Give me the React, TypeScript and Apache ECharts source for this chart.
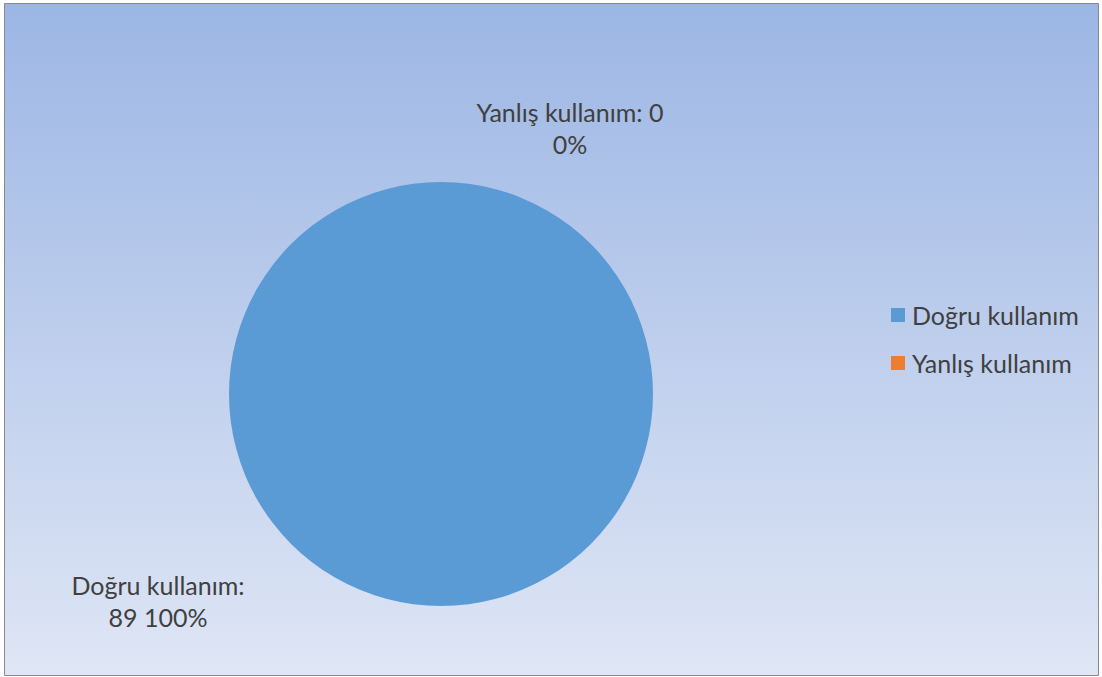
import React, { useEffect, useRef } from "react";
import * as echarts from "echarts";

const categories = ["Doğru kullanım", "Yanlış kullanım"];
const values = [89, 0];
const colors = ["#5b9bd5", "#ed7d31"];

export default function App() {
  const ref = useRef<HTMLDivElement>(null);
  useEffect(() => {
    const chart = echarts.init(ref.current!, null, { renderer: "svg" });
    const labelPos = [
      { x: 158, y: 601 },
      { x: 570, y: 128 },
    ];
    chart.setOption({
      animation: false,
      graphic: [
        {
          type: "rect",
          z: -10,
          silent: true,
          shape: { x: 4.5, y: 3.5, width: 1094, height: 672 },
          style: {
            fill: new echarts.graphic.LinearGradient(0, 0, 0, 1, [
              { offset: 0, color: "#9cb6e4" },
              { offset: 1, color: "#dfe6f5" },
            ]),
            stroke: "#8a8a8a",
            lineWidth: 1,
          },
        },
      ],
      legend: {
        orient: "vertical",
        left: 886,
        top: 297,
        itemWidth: 14,
        itemHeight: 14,
        itemGap: 22,
        icon: "rect",
        data: categories,
        textStyle: {
          fontFamily: "Lato",
          fontSize: 25,
          lineHeight: 26,
          color: "#404040",
          padding: [0, 0, 0, 2],
        },
      },
      series: [
        {
          type: "pie",
          center: [441, 394],
          radius: [0, 212],
          startAngle: 90,
          avoidLabelOverlap: false,
          label: {
            show: true,
            position: "outside",
            fontFamily: "Lato",
            fontSize: 25,
            lineHeight: 32,
            color: "#404040",
            align: "center",
            formatter: (p: any) =>
              p.dataIndex === 0
                ? `${p.name}:\n${p.value} ${Math.round(p.percent)}%`
                : `${p.name}: ${p.value}\n${Math.round(p.percent)}%`,
          },
          labelLine: { show: false },
          labelLayout: (params: any) => ({
            x: labelPos[params.dataIndex].x,
            y: labelPos[params.dataIndex].y,
            align: "center",
            verticalAlign: "middle",
          }),
          itemStyle: { borderWidth: 0 },
          emphasis: { disabled: true },
          data: categories.map((name, i) => ({
            name,
            value: values[i],
            itemStyle: { color: colors[i] },
          })),
        },
      ],
    });
    return () => chart.dispose();
  }, []);
  return (
    <div
      ref={ref}
      style={{ position: "absolute", left: 0, top: 0, width: 1102, height: 677 }}
    />
  );
}
